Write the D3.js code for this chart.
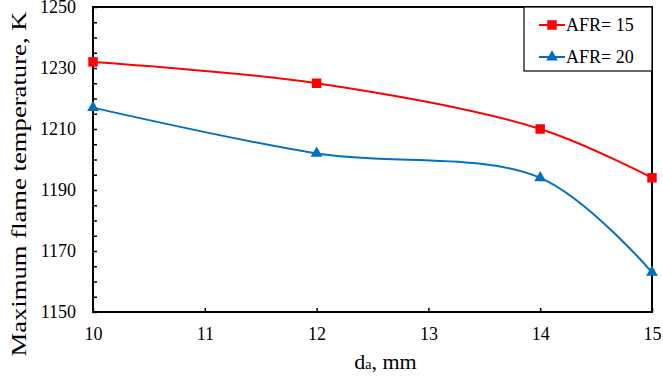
<!DOCTYPE html>
<html>
<head>
<meta charset="utf-8">
<script src="https://cdn.jsdelivr.net/npm/d3@7"></script>
<style>
    body { margin: 0; background: #fff; }
    svg text { font-family: "Liberation Serif", "Times New Roman", serif; fill: #000; }
</style>
</head>
<body>
<div id="chart"></div>
<script>
// Chart data
var diameters = [10, 12, 14, 15];
var afr15 = [1232, 1225, 1210, 1194];
var afr20 = [1217, 1202, 1194, 1163];
var seriesNames = ["AFR= 15", "AFR= 20"];
var seriesColors = ["#ff0000", "#0070c0"];
var xTicks = [10, 11, 12, 13, 14, 15];
var yTicks = [1150, 1170, 1190, 1210, 1230, 1250];
var yMinorTicks = d3.range(1150, 1251, 5);

function init() {
    // Width and height
    var w = 663;
    var h = 379;
    var left = 93, right = 652, top = 7, bottom = 312;

    var svg = d3.select("#chart")
        .append("svg")
        .attr("width", w)
        .attr("height", h);

    var x = d3.scaleLinear().domain([10, 15]).range([left, right]);
    var y = d3.scaleLinear().domain([1150, 1250]).range([bottom, top]);

    // Minor ticks on the y axis (pointing inward)
    svg.append("g")
        .attr("transform", "translate(" + left + ",0)")
        .call(d3.axisRight(y).tickValues(yMinorTicks).tickSize(4).tickFormat(""))
        .call(g => g.select(".domain").remove())
        .selectAll("line").attr("stroke", "#000").attr("stroke-width", 1.5);

    // Y tick labels
    svg.append("g")
        .attr("transform", "translate(" + left + ",0)")
        .call(d3.axisLeft(y).tickValues(yTicks).tickSize(0).tickPadding(17).tickFormat(d3.format("d")))
        .attr("font-family", "Liberation Serif")
        .attr("font-size", 18)
        .call(g => g.select(".domain").remove());

    // X ticks (pointing inward) and labels
    svg.append("g")
        .attr("transform", "translate(0," + bottom + ")")
        .call(d3.axisTop(x).tickValues(xTicks).tickSize(4).tickFormat(""))
        .call(g => g.select(".domain").remove())
        .selectAll("line").attr("stroke", "#000").attr("stroke-width", 1.5);

    svg.append("g")
        .attr("transform", "translate(0," + bottom + ")")
        .call(d3.axisBottom(x).tickValues(xTicks).tickSize(0).tickPadding(15).tickFormat(d3.format("d")))
        .attr("font-family", "Liberation Serif")
        .attr("font-size", 18)
        .call(g => g.select(".domain").remove());

    // Plot frame
    svg.append("rect")
        .attr("x", left)
        .attr("y", top)
        .attr("width", right - left)
        .attr("height", bottom - top)
        .attr("fill", "none")
        .attr("stroke", "#000")
        .attr("stroke-width", 2);

    // Smoothed lines
    var line = d3.line()
        .x((d, i) => x(diameters[i]))
        .y(d => y(d))
        .curve(d3.curveCatmullRom.alpha(0.5));

    var allSeries = [afr15, afr20];
    allSeries.forEach(function (values, si) {
        svg.append("path")
            .datum(values)
            .attr("d", line)
            .attr("fill", "none")
            .attr("stroke", seriesColors[si])
            .attr("stroke-width", 2);
    });

    // Markers
    var square = d3.symbol().type(d3.symbolSquare).size(90);
    var triangle = d3.symbol().type(d3.symbolTriangle).size(60);
    var symbols = [square, triangle];

    allSeries.forEach(function (values, si) {
        svg.selectAll(".m" + si)
            .data(values)
            .enter()
            .append("path")
            .attr("class", "m" + si)
            .attr("d", symbols[si])
            .attr("transform", (d, i) => "translate(" + x(diameters[i]) + "," + y(d) + ")")
            .attr("fill", seriesColors[si]);
    });

    // Legend box
    var legend = svg.append("g");
    legend.append("rect")
        .attr("x", 524)
        .attr("y", top)
        .attr("width", right - 524)
        .attr("height", 64)
        .attr("fill", "#fff")
        .attr("stroke", "#000")
        .attr("stroke-width", 1.2);

    seriesNames.forEach(function (name, si) {
        var ly = 25 + si * 32;
        legend.append("line")
            .attr("x1", 539).attr("x2", 565)
            .attr("y1", ly).attr("y2", ly)
            .attr("stroke", seriesColors[si])
            .attr("stroke-width", 2);
        legend.append("path")
            .attr("d", symbols[si])
            .attr("transform", "translate(552," + ly + ")")
            .attr("fill", seriesColors[si]);
        legend.append("text")
            .attr("x", 566)
            .attr("y", ly)
            .attr("dy", "0.35em")
            .style("font-size", "18px")
            .text(name);
    });

    // Axis titles
    var xt = svg.append("text")
        .attr("x", (left + right) / 2 + 13)
        .attr("y", 369)
        .attr("text-anchor", "middle")
        .style("font-size", "22px");
    xt.append("tspan").text("d");
    xt.append("tspan").style("font-size", "14px").text("a");
    xt.append("tspan").text(", mm");

    svg.append("text")
        .attr("transform", "translate(26," + 184 + ") rotate(-90)")
        .attr("text-anchor", "middle")
        .attr("textLength", 345)
        .attr("lengthAdjust", "spacingAndGlyphs")
        .style("font-size", "22px")
        .text("Maximum flame temperature,  K");
}

window.onload = init;
</script>
</body>
</html>
